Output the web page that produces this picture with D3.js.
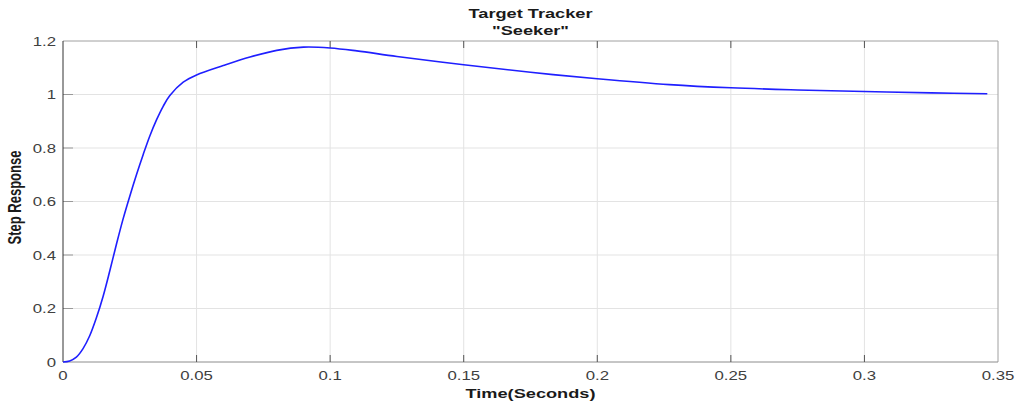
<!DOCTYPE html>
<html>
<head>
<meta charset="utf-8">
<script src="https://cdn.jsdelivr.net/npm/d3@7"></script>
<style>
  body { margin: 0; background: #fff; }
  text { font-family: "Liberation Sans", Arial, sans-serif; }
</style>
</head>
<body>
<div id="container"></div>
<script>
/* DATA */
const timeValues = [0, 0.0025, 0.005, 0.0075, 0.01, 0.0125, 0.015, 0.0175, 0.02, 0.0225, 0.025, 0.0275, 0.03, 0.0325, 0.035, 0.0375, 0.04, 0.045, 0.05, 0.06, 0.07, 0.08, 0.09, 0.1, 0.11, 0.125, 0.15, 0.175, 0.2, 0.227, 0.25, 0.275, 0.3, 0.325, 0.346];
const stepValues = [0, 0.004, 0.018, 0.05, 0.098, 0.165, 0.245, 0.34, 0.44, 0.535, 0.62, 0.7, 0.775, 0.845, 0.905, 0.956, 0.996, 1.046, 1.073, 1.108, 1.14, 1.165, 1.177, 1.174, 1.163, 1.142, 1.111, 1.083, 1.059, 1.037, 1.025, 1.017, 1.011, 1.006, 1.003];
const xTicks = [0, 0.05, 0.1, 0.15, 0.2, 0.25, 0.3, 0.35];
const yTicks = [0, 0.2, 0.4, 0.6, 0.8, 1, 1.2];
const titleLines = ["Target Tracker", "\"Seeker\""];

/* CONSTANTS */
const width = 1024, height = 403,
  margin = { top: 41, bottom: 41, left: 63, right: 26 },
  stretch = 1.4; // picture is stretched horizontally

const svg = d3.select("#container")
  .append("svg")
  .attr("width", width)
  .attr("height", height);

const xScale = d3.scaleLinear()
  .domain([0, 0.35])
  .range([margin.left, width - margin.right]);

const yScale = d3.scaleLinear()
  .domain([0, 1.2])
  .range([height - margin.bottom, margin.top]);

const x0 = xScale.range()[0], x1 = xScale.range()[1];
const y0 = yScale.range()[0], y1 = yScale.range()[1];

// grid lines
svg.append("g")
  .selectAll("line")
  .data(xTicks.slice(1, -1))
  .join("line")
  .attr("x1", d => xScale(d)).attr("x2", d => xScale(d))
  .attr("y1", y1).attr("y2", y0)
  .attr("stroke", "#e3e3e3");

svg.append("g")
  .selectAll("line")
  .data(yTicks.slice(1, -1))
  .join("line")
  .attr("x1", x0).attr("x2", x1)
  .attr("y1", d => yScale(d)).attr("y2", d => yScale(d))
  .attr("stroke", "#e3e3e3");

// box: top, right, bottom grey; left dark
svg.append("line").attr("x1", x0).attr("x2", x1).attr("y1", y1).attr("y2", y1).attr("stroke", "#a0a0a0");
svg.append("line").attr("x1", x1).attr("x2", x1).attr("y1", y1).attr("y2", y0).attr("stroke", "#a0a0a0");
svg.append("line").attr("x1", x0).attr("x2", x1).attr("y1", y0).attr("y2", y0).attr("stroke", "#8c8c8c");

// ticks
svg.append("g")
  .selectAll("line")
  .data(xTicks.slice(1, -1))
  .join("line")
  .attr("x1", d => xScale(d)).attr("x2", d => xScale(d))
  .attr("y1", y0).attr("y2", y0 - 7)
  .attr("stroke", "#555");

svg.append("g")
  .selectAll("line")
  .data(xTicks.slice(1, -1))
  .join("line")
  .attr("x1", d => xScale(d)).attr("x2", d => xScale(d))
  .attr("y1", y1).attr("y2", y1 + 7)
  .attr("stroke", "#555");

svg.append("g")
  .selectAll("line")
  .data(yTicks.slice(1, -1))
  .join("line")
  .attr("x1", x0).attr("x2", x0 + 10)
  .attr("y1", d => yScale(d)).attr("y2", d => yScale(d))
  .attr("stroke", "#999");

svg.append("line").attr("x1", x0).attr("x2", x0).attr("y1", y1).attr("y2", y0).attr("stroke", "#333");

// tick labels
svg.append("g")
  .selectAll("text")
  .data(xTicks)
  .join("text")
  .attr("transform", d => `translate(${xScale(d)},380) scale(${stretch},1)`)
  .attr("text-anchor", "middle")
  .attr("font-size", 12)
  .attr("fill", "#404040")
  .text(d => d3.format("")(d));

svg.append("g")
  .selectAll("text")
  .data(yTicks)
  .join("text")
  .attr("transform", d => `translate(${x0 - 7},${yScale(d) + 4.5}) scale(${stretch},1)`)
  .attr("text-anchor", "end")
  .attr("font-size", 12)
  .attr("fill", "#404040")
  .text(d => d3.format("")(d));

// line
const line = d3.line()
  .x((d, i) => xScale(timeValues[i]))
  .y(d => yScale(d))
  .curve(d3.curveCatmullRom);

svg.append("path")
  .datum(stepValues)
  .attr("d", line)
  .attr("fill", "none")
  .attr("stroke", "#1f1fff")
  .attr("stroke-width", 1.6);

// title
svg.append("g")
  .selectAll("text")
  .data(titleLines)
  .join("text")
  .attr("transform", (d, i) => `translate(${(x0 + x1) / 2},${18 + i * 17}) scale(${stretch},1)`)
  .attr("text-anchor", "middle")
  .attr("font-size", 13)
  .attr("font-weight", "bold")
  .attr("fill", "#1a1a1a")
  .text(d => d);

// axis labels
svg.append("text")
  .attr("transform", `translate(${(x0 + x1) / 2},398) scale(${stretch},1)`)
  .attr("text-anchor", "middle")
  .attr("font-size", 13)
  .attr("font-weight", "bold")
  .attr("fill", "#1a1a1a")
  .text("Time(Seconds)");

svg.append("text")
  .attr("transform", `translate(20.5,${(y0 + y1) / 2 - 4}) rotate(-90) scale(1,${stretch})`)
  .attr("text-anchor", "middle")
  .attr("font-size", 13)
  .attr("font-weight", "bold")
  .attr("fill", "#1a1a1a")
  .text("Step Response");
</script>
</body>
</html>
